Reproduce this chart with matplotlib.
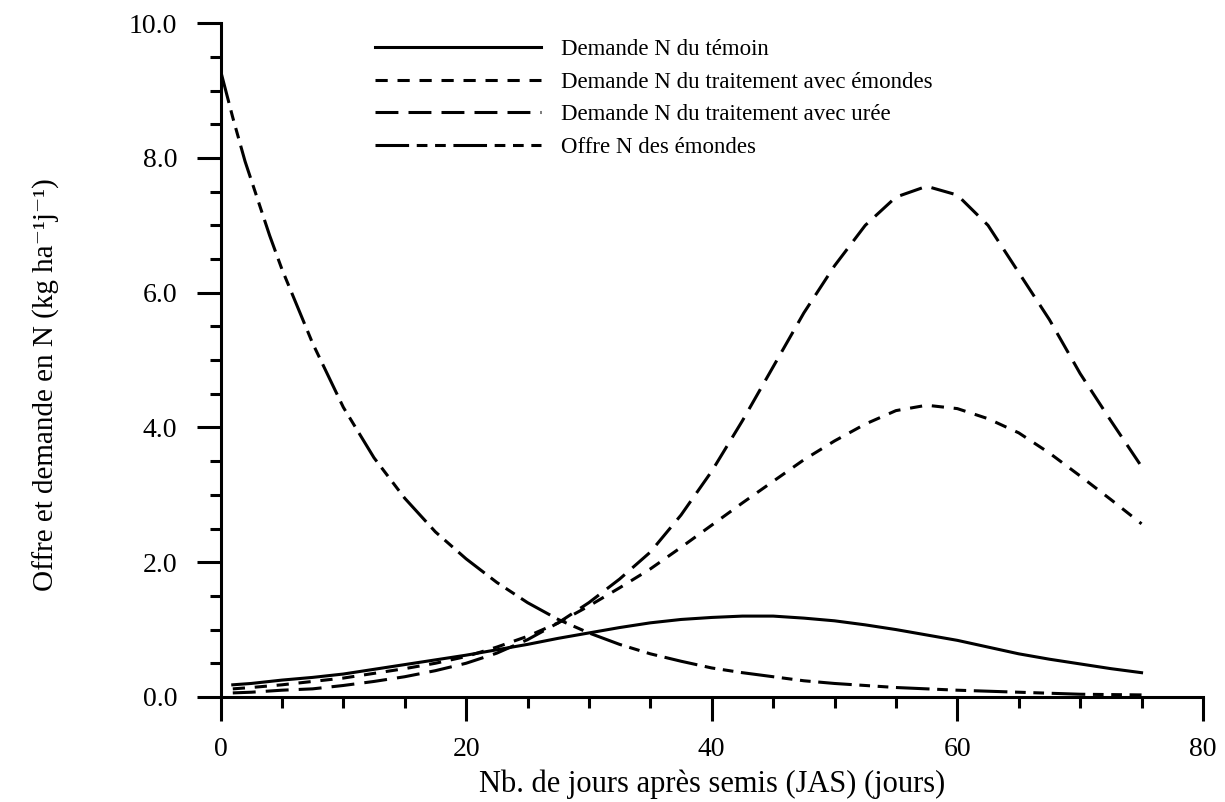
import matplotlib
matplotlib.use("Agg")
import matplotlib.pyplot as plt
from matplotlib.ticker import MultipleLocator, FormatStrFormatter

plt.rcParams["font.family"] = ["Liberation Serif", "DejaVu Serif"]

# N demand / supply curves (kg ha-1 j-1)
jas_demand = [1, 2.5, 5, 7.5, 10, 12.5, 15, 17.5, 20, 22.5, 25, 27.5, 30, 32.5,
              35, 37.5, 40, 42.5, 45, 47.5, 50, 52.5, 55, 57.5, 60, 62.5, 65,
              67.5, 70, 72.5, 75]
temoin = [0.18, 0.20, 0.25, 0.29, 0.34, 0.41, 0.48, 0.55, 0.62, 0.70, 0.78, 0.87,
          0.95, 1.03, 1.10, 1.15, 1.18, 1.20, 1.20, 1.17, 1.13, 1.07, 1.00, 0.92,
          0.84, 0.74, 0.64, 0.56, 0.49, 0.42, 0.36]
emondes = [0.12, 0.14, 0.18, 0.23, 0.28, 0.35, 0.42, 0.50, 0.60, 0.74, 0.90, 1.10,
           1.35, 1.62, 1.90, 2.22, 2.55, 2.88, 3.20, 3.52, 3.80, 4.05, 4.25, 4.33,
           4.28, 4.13, 3.92, 3.62, 3.28, 2.93, 2.57]
uree = [0.06, 0.07, 0.10, 0.12, 0.17, 0.23, 0.30, 0.39, 0.50, 0.65, 0.85, 1.10,
        1.40, 1.75, 2.15, 2.70, 3.35, 4.10, 4.90, 5.70, 6.40, 7.00, 7.42, 7.58,
        7.45, 7.00, 6.30, 5.60, 4.80, 4.10, 3.42]

jas_offre = [0, 1, 2, 3, 4, 5, 7.5, 10, 12.5, 15, 17.5, 20, 22.5, 25, 27.5, 30,
             32.5, 35, 37.5, 40, 42.5, 45, 47.5, 50, 55, 60, 65, 70, 75]
offre = [9.30, 8.60, 7.95, 7.40, 6.85, 6.35, 5.25, 4.30, 3.55, 2.95, 2.45, 2.05,
         1.70, 1.40, 1.15, 0.95, 0.78, 0.64, 0.53, 0.43, 0.36, 0.30, 0.24, 0.20,
         0.14, 0.10, 0.07, 0.04, 0.03]

labels = ["Demande N du témoin",
          "Demande N du traitement avec émondes",
          "Demande N du traitement avec urée",
          "Offre N des émondes"]

fig = plt.figure(figsize=(12.25, 8.02), dpi=100)
ax = fig.add_axes([0.180, 0.131, 0.802, 0.840])

lw = 2.2
ax.plot(jas_demand, temoin, color="black", lw=lw, label=labels[0])
ax.plot(jas_demand, emondes, color="black", lw=lw, dashes=(4, 3.2), label=labels[1])
ax.plot(jas_demand, uree, color="black", lw=lw, dashes=(7.5, 3.3), label=labels[2])
ax.plot(jas_offre, offre, color="black", lw=lw,
        dashes=(11, 2.5, 3.5, 2.5, 3.5, 2.5), label=labels[3])

ax.set_xlim(0, 80)
ax.set_ylim(0, 10)
ax.xaxis.set_major_locator(MultipleLocator(20))
ax.xaxis.set_minor_locator(MultipleLocator(5))
ax.yaxis.set_major_locator(MultipleLocator(2))
ax.yaxis.set_minor_locator(MultipleLocator(0.5))
ax.yaxis.set_major_formatter(FormatStrFormatter("%.1f"))

for side in ["top", "right"]:
    ax.spines[side].set_visible(False)
for side in ["left", "bottom"]:
    ax.spines[side].set_linewidth(2.2)

ax.tick_params(which="major", direction="out", length=17, width=2.2,
               labelsize=20, pad=12)
ax.tick_params(which="minor", direction="out", length=8, width=2.2)
ax.tick_params(axis="y", which="major", pad=14)

ax.set_xlabel("Nb. de jours après semis (JAS) (jours)", fontsize=22, labelpad=5)
ax.set_ylabel("Offre et demande en N (kg ha\u207b\u00b9j\u207b\u00b9)", fontsize=21)
ax.yaxis.set_label_coords(-0.163, 0.463)

fig.legend(loc="upper left", bbox_to_anchor=(0.306, 0.951), frameon=False,
           fontsize=16.5, handlelength=7.25, handletextpad=0.87, labelspacing=0.5,
           borderpad=0, borderaxespad=0)

fig.savefig("out.png", dpi=100)
